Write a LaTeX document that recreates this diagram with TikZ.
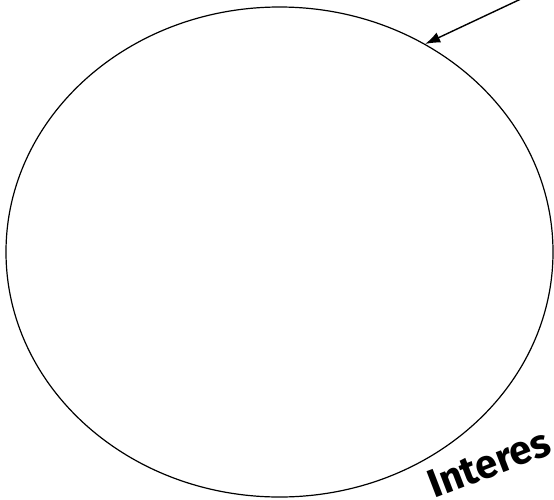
\documentclass[tikz,border=0pt]{standalone}
\usepackage{fontspec}
\setsansfont{Fira Sans}
\usetikzlibrary{arrows.meta,shapes.geometric}

\begin{document}
\begin{tikzpicture}[x=1pt, y=-1pt, >={Latex[length=15pt,width=11pt]}]
    \tikzstyle{blob}=[draw, ellipse, line width=1.2pt, inner sep=0pt, minimum width=547pt, minimum height=490pt]
    \tikzstyle{tag}=[font=\sffamily\bfseries\fontsize{40}{44}\selectfont, inner sep=0pt]

    \useasboundingbox (0,0) rectangle (554,499);

    \node[blob] (region) at (279.5,252) {};

    \coordinate (pointer) at (540,-10);
    \draw[->, line width=1.4pt] (pointer) -- (region.55);

    \node[tag, anchor=base west, rotate=21] (interest) at (434,499) {Interes};
\end{tikzpicture}
\end{document}
